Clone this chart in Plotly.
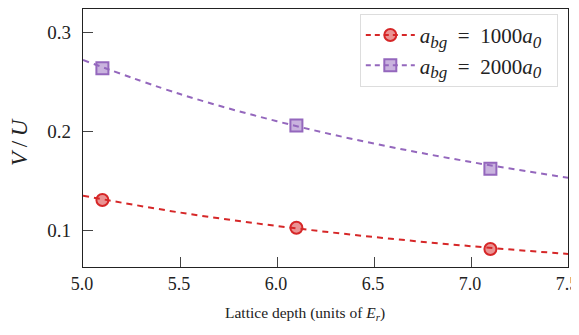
import plotly.graph_objects as go

# measured points
depth = [5.1, 6.1, 7.1]
vu_1000 = [0.1304, 0.1023, 0.0807]
vu_2000 = [0.2640, 0.2058, 0.1620]

# fitted (dashed) curves
fit_x = [5.0, 5.5, 6.0, 6.5, 7.0, 7.5]
fit_1000 = [0.1348, 0.1177, 0.1041, 0.0929, 0.0836, 0.0757]
fit_2000 = [0.2723, 0.2378, 0.2102, 0.1876, 0.1689, 0.1530]

x_ticks = [5.0, 5.5, 6.0, 6.5, 7.0, 7.5]
y_ticks = [0.1, 0.2, 0.3]

SP = "&#8194;"
SUB = "<sub><span style='font-size:17px'><i>{}</i></span></sub>"
names = [f"<i>a</i>{SUB.format('bg')}{SP}={SP}1000<i>a</i>{SUB.format('0')}&#8194;",
         f"<i>a</i>{SUB.format('bg')}{SP}={SP}2000<i>a</i>{SUB.format('0')}&#8194;"]
x_title = "Lattice depth (units of <i>E</i><sub><i>r</i></sub>)"
y_title = "<i>V</i>&#8201;/&#8201;<i>U</i>"

RED = "#d62728"
PURPLE = "#9467bd"
FILLS = ["rgba(214,39,40,0.5)", "rgba(148,103,189,0.5)"]
FONT = "Liberation Serif, Times New Roman, serif"
DASH = "6px,5px"

fig = go.Figure()

series = [(fit_1000, vu_1000, RED, "circle", FILLS[0], names[0]),
          (fit_2000, vu_2000, PURPLE, "square", FILLS[1], names[1])]

for fit_y, pts, col, sym, fill, nm in series:
    fig.add_trace(go.Scatter(x=fit_x, y=fit_y, mode="lines",
                             line=dict(color=col, width=2, dash=DASH, shape="spline"),
                             showlegend=False, hoverinfo="skip"))
    fig.add_trace(go.Scatter(x=depth, y=pts, mode="markers",
                             marker=dict(symbol=sym, size=12, color=fill, line=dict(color=col, width=2)),
                             showlegend=False))
    # legend entry
    fig.add_trace(go.Scatter(x=[None], y=[None], mode="lines+markers", name=nm,
                             line=dict(color=col, width=2, dash="5px,4px"),
                             marker=dict(symbol=sym, size=12, color=fill, line=dict(color=col, width=2))))

# page body has an 8px margin; figure is sized/placed to compensate
fig.update_layout(
    width=571, height=327,
    margin=dict(l=75, r=11, t=1, b=68),
    paper_bgcolor="white", plot_bgcolor="white",
    font=dict(family=FONT, size=19, color="#222"),
    legend=dict(x=0.979, y=0.981, xanchor="right", yanchor="top",
                bordercolor="#dddddd", borderwidth=1, bgcolor="white",
                font=dict(size=21), tracegroupgap=0, itemwidth=49),
    showlegend=True,
)
fig.update_xaxes(range=[5.0, 7.5], tickvals=x_ticks, ticktext=[f"{v:.1f}" for v in x_ticks],
                 ticks="inside", ticklen=10, tickcolor="#444", showline=True, linecolor="#222",
                 linewidth=1.2, mirror=True, showgrid=False, zeroline=False, automargin=False,
                 tickfont=dict(size=18), ticklabeloverflow="allow", ticklabelshift=-1)
fig.update_yaxes(range=[0.0625, 0.324], tickvals=y_ticks, ticktext=[f"{v:.1f}" for v in y_ticks],
                 ticks="inside", ticklen=10, tickcolor="#444", showline=True, linecolor="#222",
                 linewidth=1.2, mirror=True, showgrid=False, zeroline=False, automargin=False,
                 tickfont=dict(size=19), ticklabelstandoff=7, ticklabeloverflow="allow")

fig.add_annotation(text=x_title, xref="paper", yref="paper", x=0.458, y=-0.182,
                   xanchor="center", yanchor="middle", showarrow=False, font=dict(size=15.5))
fig.add_annotation(text=y_title, xref="paper", yref="paper", x=-0.13, y=0.4845,
                   xanchor="center", yanchor="middle", showarrow=False, textangle=-90,
                   font=dict(size=23))

fig.write_html("out.html")
